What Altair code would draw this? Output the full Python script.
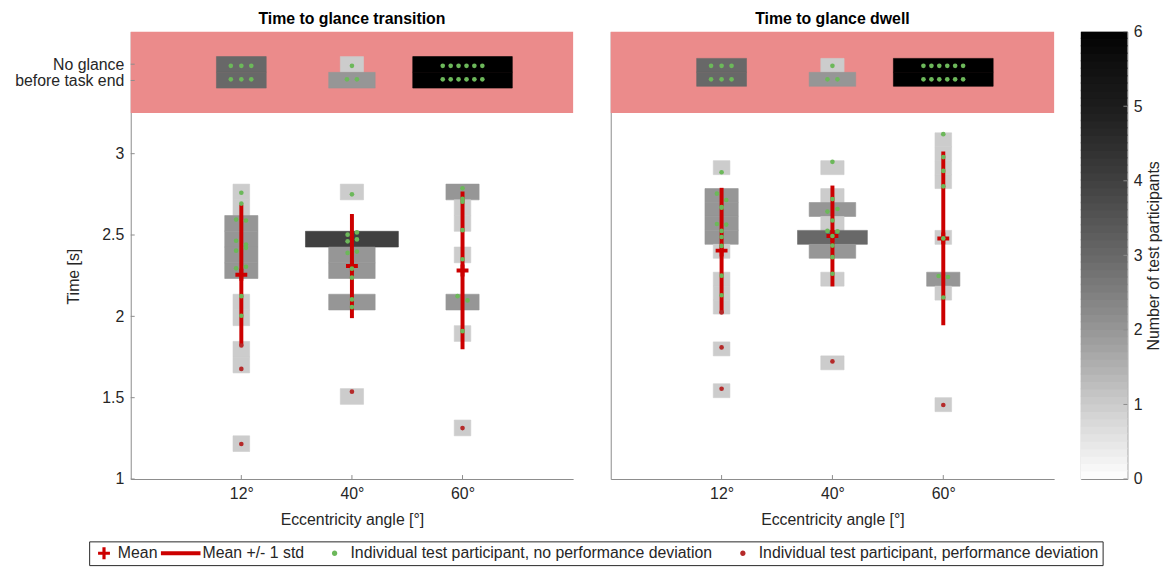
import altair as alt
import pandas as pd

FONT = "Liberation Sans"
TXT = "#262626"
AXC = "#8c8c8c"
RED = "#cc0000"
GREEN = "#6cb85a"
DEVRED = "#b52a2a"
PINK = "#eb8b8b"
FS = 16

# ---------------- data ----------------
angles = ["12°", "40°", "60°"]
angle_x = [1, 2, 3]
n_part = [21, 15, 21]          # participants per angle (box width normalisation)
cohort_width = 3.15            # box width in x units if all participants shared one bin

ng_range = [3.25, 3.75]        # "no glance before task end" band
ng_mid = 3.5
ng_dot_y = [3.54, 3.457]       # dot rows (top, bottom)
ng_dx = {1: [0.0], 2: [-0.045, 0.045], 3: [-0.095, 0.0, 0.09],
         6: [-0.179, -0.107, -0.036, 0.036, 0.107, 0.179]}

y_ticks = [1, 1.5, 2, 2.5, 3]
ng_ticks = [3.45, 3.55]
ng_labels = ["before task end", "No glance"]

count_levels = [0, 1, 2, 3, 4, 5, 6]
count_colors = ["#ffffff", "#cccccc", "#969696", "#686868", "#404040", "#1c1c1c", "#000000"]

legend_items = ["Mean", "Mean +/- 1 std",
                "Individual test participant, no performance deviation",
                "Individual test participant, performance deviation"]

# Time to glance transition
T_title = "Time to glance transition"
T_mean = [2.256, 2.309, 2.282]
T_std = [0.432, 0.320, 0.485]
T_bin0, T_binw = 1.169, 0.0967
T_bins = [
    [(16, 1), (15, 1), (14, 2), (13, 2), (12, 2), (11, 2), (9, 1), (8, 1), (6, 1), (5, 1), (0, 1)],
    [(16, 1), (13, 4), (12, 2), (11, 2), (9, 2), (3, 1)],
    [(16, 2), (15, 1), (14, 1), (12, 1), (9, 2), (7, 1), (1, 1)],
]
T_ng_top = [3, 1, 6]
T_ng_bot = [3, 2, 6]
T_dots = [
    [(0, 2.760, 0), (0, 2.693, 0), (-0.047, 2.595, 0), (0.042, 2.589, 0), (-0.047, 2.465, 0),
     (0.042, 2.441, 0), (-0.047, 2.404, 0), (0.042, 2.421, 0), (-0.047, 2.295, 0), (0.042, 2.305, 0),
     (0, 2.124, 0), (0, 2.004, 0), (0, 1.821, 1), (0, 1.677, 1), (0, 1.215, 1)],
    [(0, 2.750, 0), (-0.039, 2.502, 0), (0.045, 2.516, 0), (-0.039, 2.461, 0), (0.045, 2.473, 0),
     (-0.039, 2.390, 0), (0.045, 2.398, 0), (0, 2.293, 0), (0, 2.238, 0), (0, 2.104, 0),
     (0, 2.057, 0), (0, 1.537, 1)],
    [(0, 2.787, 0), (0, 2.723, 0), (0, 2.705, 0), (0, 2.530, 0), (0, 2.351, 0),
     (-0.045, 2.124, 0), (0.045, 2.098, 0), (0, 1.909, 0), (0, 1.313, 1)],
]

# Time to glance dwell
D_title = "Time to glance dwell"
D_mean = [2.404, 2.494, 2.479]
D_std = [0.386, 0.310, 0.534]
D_bin0, D_binw = 1.5, 0.0857
D_bins = [
    [(16, 1), (14, 2), (13, 2), (12, 2), (11, 2), (10, 1), (8, 1), (7, 1), (6, 1), (3, 1), (0, 1)],
    [(16, 1), (14, 1), (13, 2), (12, 1), (11, 3), (10, 2), (8, 1), (2, 1)],
    [(18, 1), (17, 1), (16, 1), (15, 1), (11, 1), (8, 2), (7, 1), (-1, 1)],
]
D_ng_top = [3, 1, 6]
D_ng_bot = [3, 2, 6]
D_dots = [
    [(0, 2.886, 0), (-0.042, 2.754, 0), (0.042, 2.715, 0), (0, 2.672, 0), (0, 2.668, 0),
     (-0.042, 2.568, 0), (0.042, 2.564, 0), (0, 2.525, 0), (0, 2.488, 0), (0, 2.433, 0),
     (0, 2.250, 0), (0, 2.130, 0), (0, 2.024, 1), (0, 1.809, 1), (0, 1.555, 1)],
    [(0, 2.950, 0), (0, 2.721, 0), (-0.045, 2.644, 0), (0.045, 2.660, 0), (0, 2.589, 0),
     (-0.045, 2.525, 0), (0.045, 2.522, 0), (0, 2.494, 0), (0, 2.435, 0), (0, 2.364, 0),
     (0, 2.262, 0), (0, 1.723, 1)],
    [(0, 3.120, 0), (0, 2.979, 0), (0, 2.894, 0), (0, 2.799, 0), (0, 2.479, 0),
     (-0.042, 2.248, 0), (0.042, 2.242, 0), (0, 2.116, 0), (0, 1.455, 1)],
]

# ---------------- layout constants ----------------
W, H = 447, 452
W2 = 448
CB_W = 47

PLUS = "M-1,-0.33H1V0.33H-1Z M-0.33,-1H0.33V1H-0.33Z"
DOT = "M0.465,0A0.34,0.34,0,1,1,-0.215,0A0.34,0.34,0,1,1,0.465,0Z"
LEG_SHAPES = [
    "M-0.375,-0.2H1.125V0.2H-0.375Z M0.175,-0.75H0.575V0.75H0.175Z",
    "M-3.125,-0.25H1.875V0.25H-3.125Z",
    "M-3.375,0Z " + DOT,
    "M-3.375,0Z " + DOT,
]
LEG_COLORS = [RED, RED, GREEN, DEVRED]

xs = alt.Scale(domain=[0, 4], nice=False, zero=False)
ys = alt.Scale(domain=[1, 3.75], nice=False, zero=False)
cscale = alt.Scale(domain=count_levels, range=count_colors, type="linear")


def build_frames(mean, std, bin0, binw, bins, ng_top, ng_bot, dots):
    boxes, pts = [], []
    for i in range(3):
        for k, cnt in bins[i]:
            w = cnt / n_part[i] * cohort_width
            boxes.append(dict(x0=angle_x[i] - w / 2, x1=angle_x[i] + w / 2,
                              y0=bin0 + k * binw, y1=bin0 + (k + 1) * binw, count=cnt))
        for cnt, lo, hi, yv in [(ng_top[i], ng_mid, ng_mid + binw, ng_dot_y[0]),
                                (ng_bot[i], ng_mid - binw, ng_mid, ng_dot_y[1])]:
            w = cnt / n_part[i] * cohort_width
            boxes.append(dict(x0=angle_x[i] - w / 2, x1=angle_x[i] + w / 2,
                              y0=lo, y1=hi, count=cnt))
            for dx in ng_dx[cnt]:
                pts.append(dict(x=angle_x[i] + dx, y=yv, dev=0))
        for dx, v, dev in dots[i]:
            pts.append(dict(x=angle_x[i] + dx, y=v, dev=dev))
    stats = pd.DataFrame(dict(x=angle_x, mean=mean,
                              lo=[m - s for m, s in zip(mean, std)],
                              hi=[m + s for m, s in zip(mean, std)]))
    return pd.DataFrame(boxes), pd.DataFrame(pts), stats


def panel(title, mean, std, bin0, binw, bins, ng_top, ng_bot, dots, first, width):
    boxes, pts, stats = build_frames(mean, std, bin0, binw, bins, ng_top, ng_bot, dots)
    xaxis = alt.Axis(values=angle_x,
                     labelExpr="[" + ",".join("'%s'" % a for a in angles) + "][datum.value-1]",
                     title="Eccentricity angle [°]", grid=False, ticks=False,
                     domainColor=AXC, labelPadding=7, titlePadding=10)
    if first:
        lab = "datum.value > 3.5 ? '%s' : datum.value > 3.4 ? '%s' : format(datum.value, '~g')" % (
            ng_labels[1], ng_labels[0])
        yaxis = alt.Axis(values=y_ticks + ng_ticks, labelExpr=lab, title="Time [s]",
                         grid=False, ticks=False, domainColor=AXC, labelPadding=7,
                         labelOverlap=False, titleX=-50, titleY=247)
    else:
        yaxis = alt.Axis(values=y_ticks, grid=False, ticks=False, labels=False, title=None,
                         domainColor=AXC)

    X = lambda f: alt.X(f, scale=xs, axis=xaxis)
    Y = lambda f: alt.Y(f, scale=ys, axis=yaxis)

    band = pd.DataFrame(dict(x0=[xs.domain[0]], x1=[xs.domain[1]], y0=[ng_range[0]], y1=[ng_range[1]]))
    pink = alt.Chart(band).mark_rect(color=PINK).encode(
        x=X("x0:Q"), x2="x1:Q", y=Y("y0:Q"), y2="y1:Q")
    rects = alt.Chart(boxes).mark_rect(strokeWidth=0.6).encode(
        x=X("x0:Q"), x2="x1:Q", y=Y("y0:Q"), y2="y1:Q",
        color=alt.Color("count:Q", scale=cscale, legend=None),
        stroke=alt.Stroke("count:Q", scale=cscale, legend=None))
    rule = alt.Chart(stats).mark_rule(color=RED, strokeWidth=4).encode(
        x=X("x:Q"), y=Y("lo:Q"), y2="hi:Q")
    meanpt = alt.Chart(stats).mark_point(shape=PLUS, filled=True, color=RED, size=144, opacity=1,
                                         strokeWidth=0).encode(x=X("x:Q"), y=Y("mean:Q"))
    good = alt.Chart(pts[pts.dev == 0]).mark_circle(color=GREEN, size=22, opacity=1).encode(
        x=X("x:Q"), y=Y("y:Q"))
    bad = alt.Chart(pts[pts.dev == 1]).mark_circle(color=DEVRED, size=22, opacity=1).encode(
        x=X("x:Q"), y=Y("y:Q"))
    xt = alt.Chart(pd.DataFrame(dict(v=angle_x))).mark_rule(color=AXC).encode(
        x=X("v:Q"), y=alt.value(H - 4), y2=alt.value(H))
    layers = [pink, rects, xt, rule, meanpt, good, bad]
    if first:
        yt = alt.Chart(pd.DataFrame(dict(v=y_ticks + ng_ticks))).mark_rule(color=AXC).encode(
            y=Y("v:Q"), x=alt.value(0), x2=alt.value(4))
        layers.insert(2, yt)
        leg = alt.Legend(title=None, orient="none", legendX=-42, legendY=515, direction="horizontal",
                         columns=4, labelFont=FONT, labelFontSize=FS, labelColor=TXT, labelLimit=0,
                         symbolSize=256, symbolStrokeWidth=0, strokeColor=TXT, padding=4,
                         columnPadding=2.5, labelOffset=9, fillColor="white")
        dummy = alt.Chart(pd.DataFrame(dict(item=legend_items))).mark_point(
            filled=True, size=256, clip=True, opacity=1).encode(
            x=alt.value(-200), y=alt.value(-200),
            fill=alt.Fill("item:N", scale=alt.Scale(domain=legend_items, range=LEG_COLORS), legend=leg),
            shape=alt.Shape("item:N", scale=alt.Scale(domain=legend_items, range=LEG_SHAPES), legend=leg))
        layers.append(dummy)
    return alt.layer(*layers).properties(
        width=width, height=H,
        title=alt.Title(title, fontSize=FS, fontWeight="bold", color="#000000", font=FONT, offset=5))


left = panel(T_title, T_mean, T_std, T_bin0, T_binw, T_bins, T_ng_top, T_ng_bot, T_dots, True, W)
right = panel(D_title, D_mean, D_std, D_bin0, D_binw, D_bins, D_ng_top, D_ng_bot, D_dots, False, W2)

cb_lo = [i / 10 for i in range(60)]
cb = pd.DataFrame(dict(lo=cb_lo, hi=[min(v + 0.12, 6) for v in cb_lo], mid=[v + 0.05 for v in cb_lo]))
cb_scale = alt.Scale(domain=[0, 6], nice=False, zero=False)
cb_axis = alt.Axis(orient="right", values=count_levels, title="Number of test participants",
                   grid=False, ticks=False, domain=False, labelPadding=6,
                   titleAngle=270, titleBaseline="top", titlePadding=4)
cb_rects = alt.Chart(cb).mark_rect().encode(
    x=alt.value(0), x2=alt.value(CB_W),
    y=alt.Y("lo:Q", scale=cb_scale, axis=cb_axis), y2="hi:Q",
    color=alt.Color("mid:Q", scale=cscale, legend=None),
)
cb_ticks = alt.Chart(pd.DataFrame(dict(v=count_levels))).mark_rule(color=AXC).encode(
    y=alt.Y("v:Q", scale=cb_scale, axis=cb_axis), x=alt.value(CB_W - 4), x2=alt.value(CB_W))
cbar = alt.layer(cb_rects, cb_ticks).properties(
    width=CB_W, height=H, view=alt.ViewBackground(stroke=AXC, strokeWidth=1))

chart = alt.hconcat(alt.hconcat(left, right, spacing=38), cbar, spacing=26).properties(
    padding={"left": 6, "top": 0, "right": 0, "bottom": 0}
).configure_view(stroke=None).configure_axis(
    labelFont=FONT, titleFont=FONT, labelFontSize=FS, titleFontSize=FS, labelColor=TXT,
    titleColor=TXT, titleFontWeight="normal"
).configure_title(font=FONT)

chart.save("out.html", embed_options={"renderer": "svg", "actions": False})
